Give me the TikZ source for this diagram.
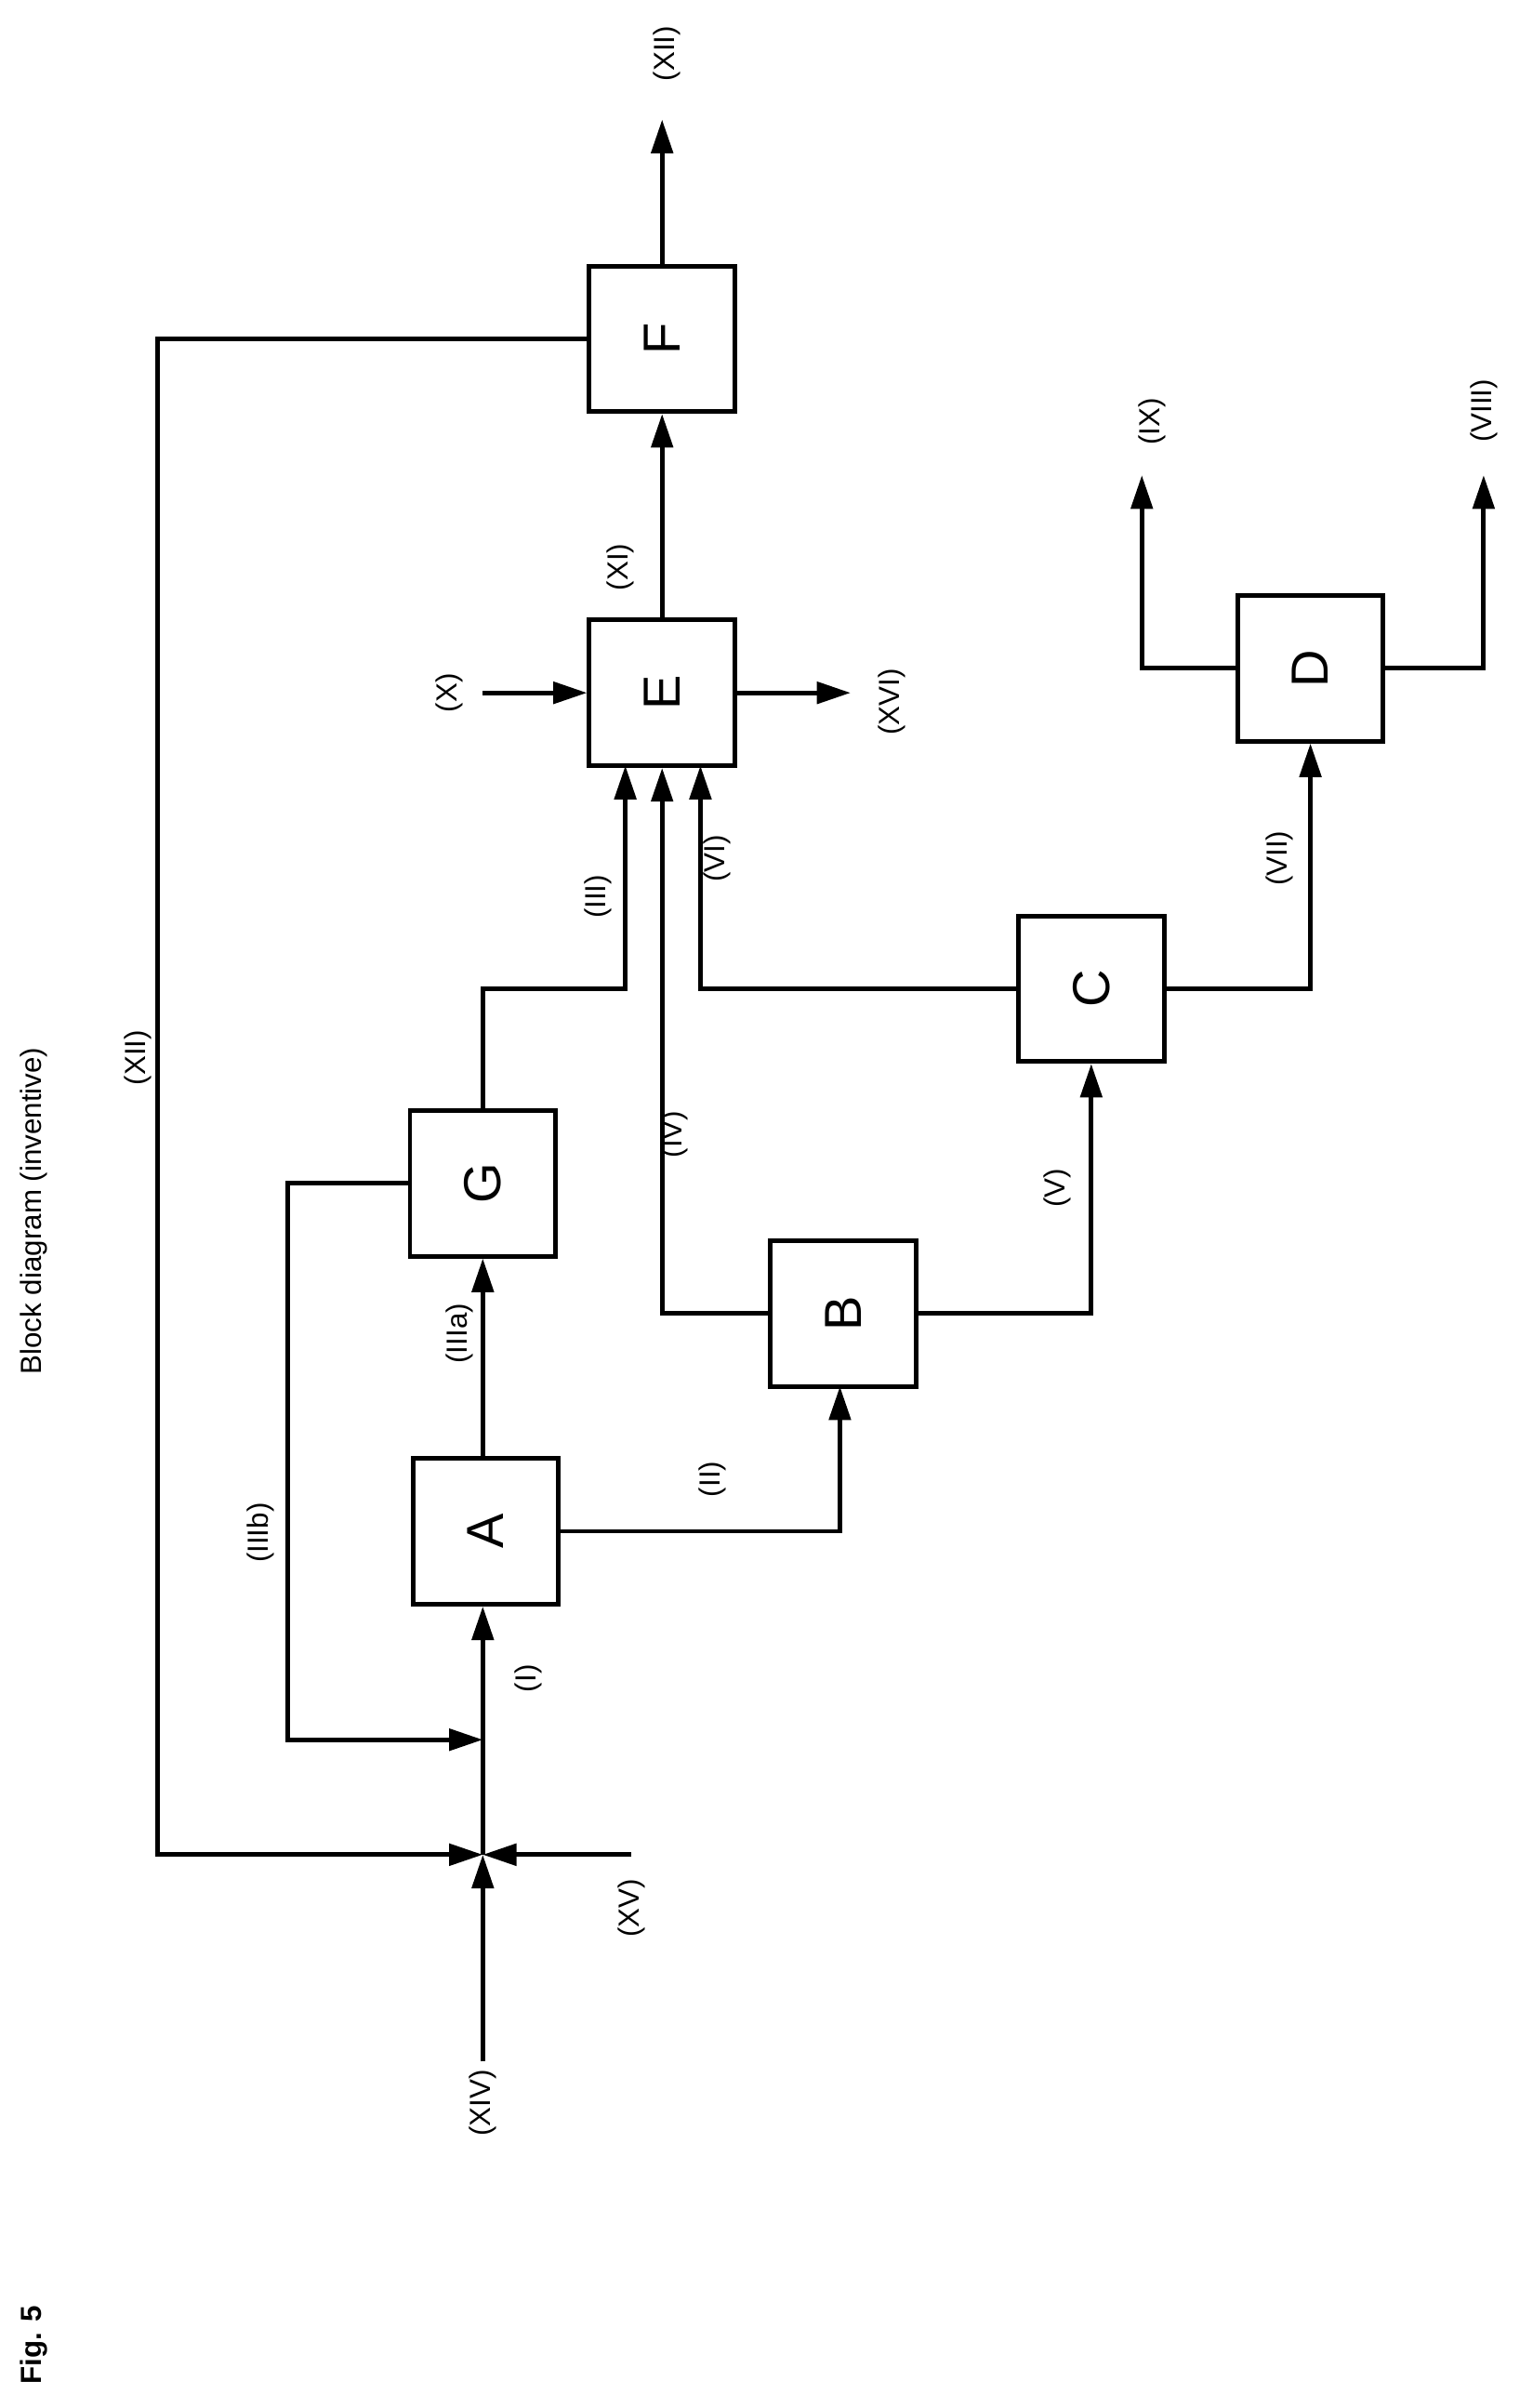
\documentclass[tikz,border=0pt]{standalone}
\usepackage{fontspec}
\setmainfont{Liberation Sans}
\usetikzlibrary{arrows.meta}
\begin{document}
\begin{tikzpicture}[x=1pt,y=-1pt,line width=3pt,
 box/.style={draw,minimum width=95pt,minimum height=95pt,inner sep=0pt,font=\fontsize{34}{34}\selectfont},
 lab/.style={font=\fontsize{19}{19}\selectfont,rotate=90,inner sep=1pt},
 ar/.style={-{Triangle[length=22pt,width=14pt]}}]
\useasboundingbox (0,0) rectangle (1000,1571);
\node[box] (A) at (317,999) {\rotatebox{90}{A}};
\node[box] (G) at (315,772) {\rotatebox{90}{G}};
\node[box] (B) at (550,857) {\rotatebox{90}{B}};
\node[box] (C) at (712,645) {\rotatebox{90}{C}};
\node[box] (E) at (432,452) {\rotatebox{90}{E}};
\node[box] (F) at (432,221) {\rotatebox{90}{F}};
\node[box] (D) at (855,436) {\rotatebox{90}{D}};
\coordinate (J) at (315,1210);
\coordinate (K) at (315,1135);
\coordinate (s14) at (315,1345);
\coordinate (s15) at (412,1210);
\coordinate (lpx) at (103,221);
\coordinate (lpy) at (103,1210);
\draw[ar] (s14) -- (J);
\draw[ar] (s15) -- (J);
\draw[ar] (F.west) -- (lpx) -- (lpy) -- (J);
\draw[ar] (J) -- (A.south -| J);
\draw[ar] (G.west) -- (188,772) -- (188,1135) -- (K);
\draw[ar] (A.north -| G) -- (G.south);
\draw[ar] (A.east) -- (548,999) -- (548,904.5);
\draw[ar] (G.north) -- (315,645) -- (408,645) -- (408,499.5);
\draw[ar] (B.west) -- (432,857) -- (E.south);
\draw[ar] (B.east) -- (712,857) -- (C.south);
\draw[ar] (C.west) -- (457,645) -- (457,499.5);
\draw[ar] (C.east) -- (855,645) -- (D.south);
\draw[ar] (D.west) -- (745,436) -- (745,310);
\draw[ar] (D.east) -- (968,436) -- (968,310);
\coordinate (xin) at (315,452);
\coordinate (xvi) at (555,452);
\coordinate (xii) at (432,78);
\draw[ar] (xin) -- (E.west);
\draw[ar] (E.east) -- (xvi);
\draw[ar] (E.north) -- (F.south);
\draw[ar] (F.north) -- (xii);
\node[lab] (l14) at (315,1372) {(XIV)};
\node[lab] (l15) at (412,1245) {(XV)};
\node[lab] (l1) at (345,1095) {(I)};
\node[lab] (l3b) at (170,1000) {(IIIb)};
\node[lab] (l3a) at (300,870) {(IIIa)};
\node[lab] (l2) at (465,965) {(II)};
\node[lab] (l3) at (390,585) {(III)};
\node[lab] (l4) at (440,740) {(IV)};
\node[lab] (l5) at (690,775) {(V)};
\node[lab] (l6) at (468,560) {(VI)};
\node[lab] (l7) at (835,560) {(VII)};
\node[lab] (l9) at (752,275) {(IX)};
\node[lab] (l8) at (968,268) {(VIII)};
\node[lab] (l10) at (293,452) {(X)};
\node[lab] (l16) at (582,458) {(XVI)};
\node[lab] (l11) at (405,370) {(XI)};
\node[lab] (l12) at (435,35) {(XII)};
\node[lab] (l12b) at (90,690) {(XII)};
\node[lab] (t) at (22,790) {Block diagram (inventive)};
\node[lab,font=\fontsize{19}{19}\selectfont\bfseries] (fig) at (22,1530) {Fig. 5};
\end{tikzpicture}
\end{document}
